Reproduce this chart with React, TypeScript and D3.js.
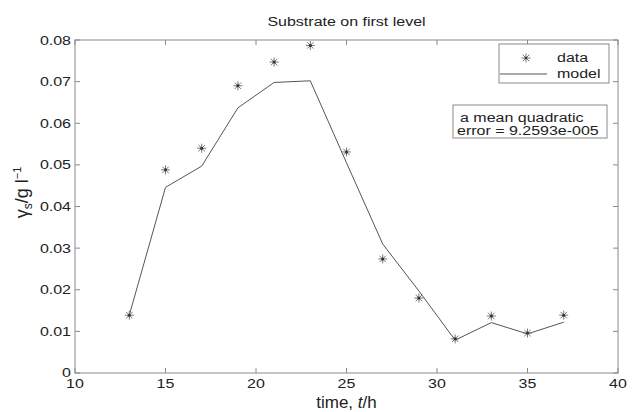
import React from 'react';
import * as d3 from 'd3';

const times = [13, 15, 17, 19, 21, 23, 25, 27, 29, 31, 33, 35, 37];
const dataValues = [0.0139, 0.0488, 0.054, 0.069, 0.0747, 0.0787, 0.0531, 0.0274, 0.018, 0.0082, 0.0137, 0.0096, 0.0139];
const modelValues = [0.0139, 0.0446, 0.0497, 0.0637, 0.0698, 0.0702, 0.0505, 0.031, 0.0197, 0.0079, 0.0121, 0.0094, 0.0122];
const xTicks = [10, 15, 20, 25, 30, 35, 40];
const yTicks = [0, 0.01, 0.02, 0.03, 0.04, 0.05, 0.06, 0.07, 0.08];
const legendLabels = ['data', 'model'];
const noteLines = ['a mean quadratic', 'error = 9.2593e-005'];

const W = 638;
const H = 412;
const left = 75, right = 618, top = 40, bottom = 373;
const SX = 1.28; // the picture is stretched sideways
const font = '"Liberation Sans", Arial, sans-serif';

// stretched text
const SText = ({ x, y, anchor = 'start', size = 12.5, sx = SX, children }: any) => (
  <text
    transform={`translate(${x},${y}) scale(${sx},1)`}
    textAnchor={anchor}
    fontSize={size}
    fontFamily={font}
    fill="#222"
  >
    {children}
  </text>
);

const starPath = (cx: number, cy: number, r: number) => {
  const d = r * 0.72;
  return `M${cx - r},${cy}L${cx + r},${cy}M${cx},${cy - r}L${cx},${cy + r}` +
    `M${cx - d},${cy - d}L${cx + d},${cy + d}M${cx - d},${cy + d}L${cx + d},${cy - d}`;
};

const App = () => {
  const x = d3.scaleLinear().domain([10, 40]).range([left, right]);
  const y = d3.scaleLinear().domain([0, 0.08]).range([bottom, top]);

  const line = d3.line<number>()
    .x((_, i) => x(times[i]))
    .y(d => y(d));

  const tickLen = 5;
  const axisColor = '#8a8a8a';

  return (
    <svg width={W} height={H} style={{ position: 'absolute', left: 0, top: 0, background: '#fff' }}>
      <rect x={0} y={0} width={W} height={H} fill="#fff" />

      {/* box */}
      <rect x={left} y={top} width={right - left} height={bottom - top} fill="none" stroke={axisColor} strokeWidth={1} />

      {/* x ticks, bottom and top */}
      {xTicks.map(t => (
        <g key={'x' + t}>
          <line x1={x(t)} x2={x(t)} y1={bottom} y2={bottom - tickLen} stroke={axisColor} />
          <line x1={x(t)} x2={x(t)} y1={top} y2={top + tickLen} stroke={axisColor} />
          <SText x={x(t)} y={bottom + 15} anchor="middle">{t}</SText>
        </g>
      ))}

      {/* y ticks, left and right */}
      {yTicks.map(t => (
        <g key={'y' + t}>
          <line x1={left} x2={left + tickLen} y1={y(t)} y2={y(t)} stroke={axisColor} />
          <line x1={right} x2={right - tickLen} y1={y(t)} y2={y(t)} stroke={axisColor} />
          <SText x={left - 4} y={y(t) + (t === 0 ? 3.5 : 4.5)} anchor="end">{t === 0 ? '0' : d3.format('.2f')(t)}</SText>
        </g>
      ))}

      {/* model line */}
      <path d={line(modelValues) || ''} fill="none" stroke="#555" strokeWidth={1} />

      {/* data stars */}
      {dataValues.map((v, i) => (
        <g key={'p' + i}>
          <path d={starPath(x(times[i]), y(v), 4.5)} stroke="#777" strokeWidth={1} fill="none" />
          <circle cx={x(times[i])} cy={y(v)} r={1.5} fill="#333" />
        </g>
      ))}

      {/* title */}
      <SText x={(left + right) / 2} y={26} anchor="middle" size={12.5}>Substrate on first level</SText>

      {/* x label */}
      <text x={(left + right) / 2} y={408} textAnchor="middle" fontSize={17} fontFamily={font} fill="#222">
        time, <tspan fontStyle="italic">t</tspan>/h
      </text>

      {/* y label */}
      <text transform={`translate(28,${(top + bottom) / 2 - 14}) rotate(-90)`} textAnchor="middle" fontSize={18} fontFamily={font} fill="#222">
        γ<tspan fontSize={12} dy={4}>s</tspan><tspan dy={-4}>/g l</tspan><tspan fontSize={11} dy={-7}>−1</tspan>
      </text>

      {/* legend */}
      <rect x={499} y={44} width={110} height={39} fill="#fff" stroke={axisColor} />
      <path d={starPath(526, 58, 4.5)} stroke="#777" strokeWidth={1} fill="none" />
      <circle cx={526} cy={58} r={1.3} fill="#333" />
      <SText x={557} y={62}>{legendLabels[0]}</SText>
      <line x1={500} x2={547} y1={74} y2={74} stroke="#555" />
      <SText x={557} y={78}>{legendLabels[1]}</SText>

      {/* note */}
      <rect x={453} y={105} width={154} height={33} fill="#fff" stroke={axisColor} />
      <SText x={460} y={122}>{noteLines[0]}</SText>
      <SText x={457} y={135}>{noteLines[1]}</SText>
    </svg>
  );
};

export default App;
